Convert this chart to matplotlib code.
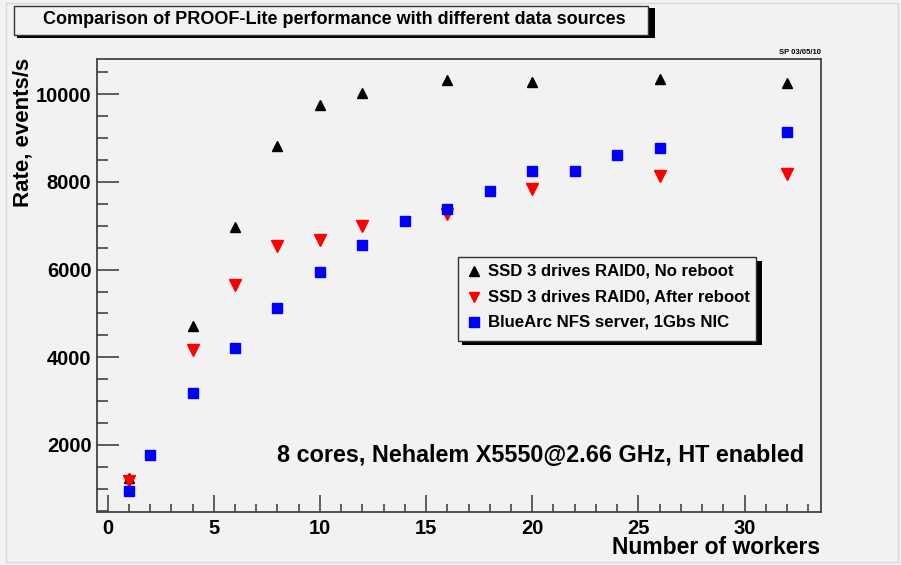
import matplotlib
matplotlib.use("Agg")
import matplotlib.pyplot as plt
from matplotlib.patches import Rectangle
from matplotlib.ticker import MultipleLocator

workers_noreboot = [1, 4, 6, 8, 10, 12, 16, 20, 26, 32]
rate_noreboot = [1250, 4720, 6980, 8820, 9750, 10030, 10320, 10280, 10350, 10260]

workers_after = [1, 4, 6, 8, 10, 12, 16, 20, 26, 32]
rate_after = [1180, 4170, 5650, 6550, 6680, 7000, 7270, 7840, 8140, 8180]

workers_nfs = [1, 2, 4, 6, 8, 10, 12, 14, 16, 18, 20, 22, 24, 26, 32]
rate_nfs = [960, 1780, 3190, 4210, 5130, 5950, 6570, 7110, 7390, 7790, 8250, 8250, 8610, 8780, 9140]

labels = ["SSD 3 drives RAID0, No reboot",
          "SSD 3 drives RAID0, After reboot",
          "BlueArc NFS server, 1Gbs NIC"]

plt.rcParams['font.family'] = ['Liberation Sans', 'DejaVu Sans']
plt.rcParams['font.weight'] = 'bold'

W, H = 901, 565
fig = plt.figure(figsize=(W / 100, H / 100), dpi=100)
bg = '#f2f2f2'
fig.patch.set_facecolor(bg)

ax = fig.add_axes([97 / W, 1 - 512 / H, (821 - 97) / W, (512 - 59) / H])
ax.set_facecolor(bg)

ax.plot(workers_noreboot, rate_noreboot, linestyle='none', marker='^', color='black', markersize=7.5)
ax.plot(workers_after, rate_after, linestyle='none', marker='v', color='#ff0000', markersize=8)
ax.plot(workers_nfs, rate_nfs, linestyle='none', marker='s', color='#0000ff', markersize=7.5)

ax.set_xlim(-0.5, 33.6)
ax.set_ylim(470, 10805)

ax.xaxis.set_major_locator(MultipleLocator(5))
ax.xaxis.set_minor_locator(MultipleLocator(1))
ax.yaxis.set_major_locator(MultipleLocator(2000))
ax.yaxis.set_minor_locator(MultipleLocator(500))

axcol = '#444444'
for s in ax.spines.values():
    s.set_color(axcol)
    s.set_linewidth(1.3)
ax.tick_params(axis='both', which='both', direction='in', color=axcol, width=1.2,
               top=False, right=False, labelsize=14.5)
ax.tick_params(axis='y', which='major', length=16, pad=4)
ax.tick_params(axis='y', which='minor', length=8)
ax.tick_params(axis='x', which='major', length=12, pad=5)
ax.tick_params(axis='x', which='minor', length=6)
for lab in ax.get_xticklabels() + ax.get_yticklabels():
    lab.set_fontweight('bold')

fig.text(820 / W, 1 - 548 / H, "Number of workers", ha='right', va='center',
         fontsize=16.5, fontweight='bold')
fig.text(23 / W, 1 - 58 / H, "Rate, events/s", ha='center', va='top', rotation=90,
         fontsize=16, fontweight='bold')

# title box with shadow
fig.patches.append(Rectangle((17 / W, 1 - 38 / H), (652 - 14) / W, (38 - 8) / H,
                             transform=fig.transFigure, facecolor='black', edgecolor='none'))
fig.patches.append(Rectangle((14 / W, 1 - 35 / H), (648 - 14) / W, (35 - 6) / H,
                             transform=fig.transFigure, facecolor=bg, edgecolor='#333333', linewidth=1))
fig.text(334 / W, 1 - 20 / H, "Comparison of PROOF-Lite performance with different data sources",
         ha='center', va='center', fontsize=13, fontweight='bold')

fig.text(821 / W, 1 - 52 / H, "SP 03/05/10", ha='right', va='center', fontsize=5.5, fontweight='bold')

# legend box with shadow
fig.patches.append(Rectangle((462 / W, 1 - 345 / H), (758 - 458) / W, (345 - 261) / H,
                             transform=fig.transFigure, facecolor='black', edgecolor='none'))
fig.patches.append(Rectangle((458 / W, 1 - 341 / H), (756 - 458) / W, (341 - 257) / H,
                             transform=fig.transFigure, facecolor=bg, edgecolor='#333333', linewidth=1))
leg_y = [271, 297, 322]
leg_m = [('^', 'black'), ('v', '#ff0000'), ('s', '#0000ff')]
for yy, (m, c), t in zip(leg_y, leg_m, labels):
    fig.lines.append(plt.Line2D([474 / W], [1 - yy / H], transform=fig.transFigure,
                                marker=m, color=c, markersize=6.5, linestyle='none'))
    fig.text(488 / W, 1 - yy / H, t, ha='left', va='center', fontsize=12.1, fontweight='bold')

fig.text(804 / W, 1 - 455 / H, "8 cores, Nehalem X5550@2.66 GHz, HT enabled",
         ha='right', va='center', fontsize=16.8, fontweight='bold')

fig.patches.append(Rectangle((6 / W, 1 - 562 / H), (898 - 6) / W, (562 - 3) / H,
                             transform=fig.transFigure, facecolor='none', edgecolor='#d8d8d8', linewidth=1))

fig.savefig("out.png", dpi=100, facecolor=bg)
